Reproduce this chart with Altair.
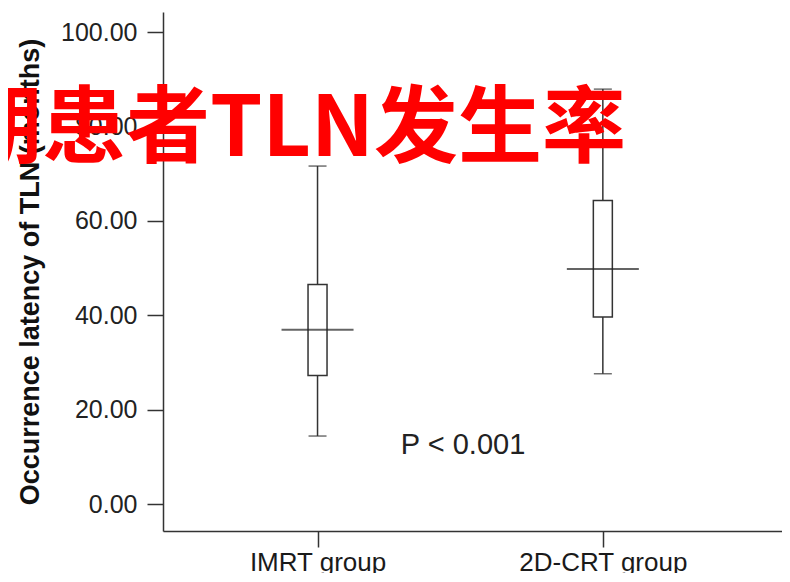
import altair as alt
import pandas as pd

groups = ["IMRT group", "2D-CRT group"]
group_pos = [1, 2]
whisker_low = [14.4, 27.6]
q1 = [27.2, 39.6]
median = [36.9, 49.8]
q3 = [46.5, 64.3]
whisker_high = [71.6, 87.9]
y_ticks = [0, 20, 40, 60, 80, 100]
p_text = ["P < 0.001"]
overlay_text = ["期患者TLN发生率"]

df = pd.DataFrame({
    "group": groups, "pos": group_pos, "lo": whisker_low, "q1": q1,
    "med": median, "q3": q3, "hi": whisker_high,
})

label_expr = "datum.value == 1 ? '%s' : '%s'" % (groups[0], groups[1])

# plot area 163..782 px (619 px); 1 -> 315 px, 2 -> 605 px
xs = alt.Scale(domain=[0.4759, 2.6104], nice=False, zero=False)
ys = alt.Scale(domain=[-5.72, 104.24], nice=False, zero=False)

x_enc = alt.X("pos:Q", scale=xs, axis=alt.Axis(
    values=group_pos, labelExpr=label_expr, title=None, grid=False,
    domainColor="#333333", domainWidth=1.5, tickColor="#333333", tickWidth=1.5,
    tickSize=16, labelFontSize=26, labelColor="#1a1a1a", labelPadding=2,
    labelFont="Liberation Sans"))

y_axis = alt.Axis(values=y_ticks, format=".2f", grid=False,
    title="Occurrence latency of TLN (months)", titleFontSize=27,
    titleFont="Liberation Sans", titleFontWeight="bold", titleColor="#111111",
    titlePadding=16,
    domainColor="#333333", domainWidth=1.5, tickColor="#333333", tickWidth=1.5,
    tickSize=16, labelFontSize=25, labelColor="#222222", labelPadding=10,
    labelFont="Liberation Sans")

base = alt.Chart(df)

whisk = base.mark_rule(color="#333333", strokeWidth=1.5).encode(
    x=x_enc, y=alt.Y("lo:Q", scale=ys, axis=y_axis), y2="hi:Q")

cap_lo = base.mark_tick(orient="horizontal", size=18, thickness=1.5, color="#333333").encode(
    x="pos:Q", y="lo:Q")
cap_hi = base.mark_tick(orient="horizontal", size=18, thickness=1.5, color="#333333").encode(
    x="pos:Q", y="hi:Q")

box = base.mark_bar(size=19, fill="white", stroke="#333333", strokeWidth=1.5).encode(
    x="pos:Q", y="q1:Q", y2="q3:Q")

med = base.mark_tick(orient="horizontal", size=72, thickness=2, color="#222222").encode(
    x="pos:Q", y="med:Q")

p_df = pd.DataFrame({"t": p_text, "x": [1.51], "y": [12.5]})
ptxt = alt.Chart(p_df).mark_text(fontSize=29, font="Liberation Sans", color="#222222",
                                 align="center", baseline="middle").encode(
    x="x:Q", y="y:Q", text="t:N")

o_df = pd.DataFrame({"t": overlay_text})
otxt = alt.Chart(o_df).mark_text(fontSize=84, font="Noto Sans CJK SC", fontWeight="bold",
                                 color="#ff0000", align="right", baseline="alphabetic").encode(
    x=alt.value(463), y=alt.value(144), text="t:N")

chart = alt.layer(whisk, cap_lo, cap_hi, box, med, ptxt, otxt).properties(
    width=619, height=519,
    background="white",
    autosize=alt.AutoSizeParams(type="none"),
    padding={"left": 155, "top": 4, "right": 0, "bottom": 42},
).configure_view(stroke=None)

chart.save("out.html", embed_options={"renderer": "svg", "actions": False})
